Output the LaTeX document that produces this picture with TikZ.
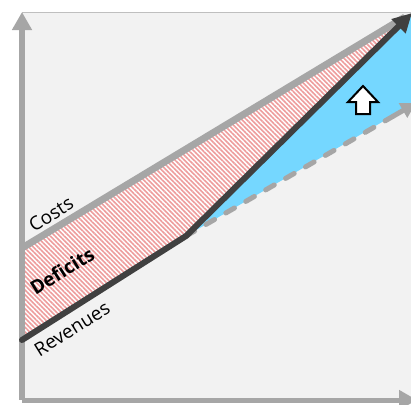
\documentclass[tikz,border=0pt]{standalone}
\usepackage{fontspec}
\setmainfont{Open Sans}
\usetikzlibrary{arrows.meta,patterns.meta,calc}

\definecolor{axisgray}{HTML}{A6A6A6}
\definecolor{framegray}{HTML}{BFBFBF}
\definecolor{plotbg}{HTML}{F2F2F2}
\definecolor{revdark}{HTML}{404040}
\definecolor{gainblue}{HTML}{75D7FF}
\definecolor{hatchpink}{HTML}{EE9C9C}

\begin{document}
\begin{tikzpicture}[
	% one unit is one pixel of the chart, y grows downwards
	x=1bp, y=-1bp
	]
	% Styles for the chart lines and labels.
	\tikzset{
		axis/.style={draw=axisgray, line width=5bp, -{Triangle[length=18bp,width=19bp]}},
		costline/.style={draw=axisgray, line width=7bp},
		revline/.style={draw=revdark, line width=6bp, line cap=round, line join=round, -{Triangle[length=19bp,width=19bp]}},
		trendline/.style={draw=axisgray, line width=5bp, line cap=round, dash pattern=on 10bp off 13bp},
		trendtip/.style={draw=axisgray, line width=5bp, -{Triangle[length=15bp,width=16bp]}},
		lbl/.style={font=\fontsize{19}{21}\selectfont, rotate=32, inner sep=0pt}
	}
	\useasboundingbox (0,0) rectangle (411,405);
	
	% === POINTS ===
	\coordinate (origin) at (22,400);
	\coordinate (ytop) at (22,12);
	\coordinate (xend) at (417,400);
	\coordinate (costA) at (22,248);
	\coordinate (costB) at (405,17);
	\coordinate (revA) at (22,340);
	\coordinate (bend) at (186,236);
	\coordinate (revB) at (412,13);
	\coordinate (trendB) at (416,103);
	\coordinate (uparrow) at (363,100);
	
	% === AREAS ===
	\begin{scope}
		\clip (0,0) rectangle (411,405);
		\fill[plotbg] (ytop) rectangle (420,400);
		\draw[framegray, line width=1bp] (ytop) -- (420,12);
		\fill[gainblue] (bend) -- (revB) -- (420,10) -- (420,100) -- cycle;
		\fill[white] (costA) -- (costB) -- (bend) -- (revA) -- cycle;
		\fill[pattern={Lines[angle=-45, distance=3.3bp, line width=1.6bp]}, pattern color=hatchpink]
			(costA) -- (costB) -- (bend) -- (revA) -- cycle;
		
		% === LINES ===
		\draw[costline] (costA) -- (costB);
		\draw[trendline] (bend) -- ($(bend)!0.9!(trendB)$);
		\draw[trendtip] ($(bend)!0.9!(trendB)$) -- (trendB);
		\draw[axis] (origin) -- (ytop);
		\draw[axis] (origin) -- (xend);
		\draw[revline] (revA) -- (bend) -- (revB);
	\end{scope}
	
	% white block arrow pointing up
	\draw[black, line width=2bp, fill=white, line join=miter, shift={(uparrow)}]
		(0,-14) -- (15,2) -- (7,2) -- (7,14) -- (-7,14) -- (-7,2) -- (-15,2) -- cycle;
	
	% === LABELS ===
	\node[lbl] (costslbl) at (51,214) {Costs};
	\node[lbl, font=\fontsize{19}{21}\selectfont\bfseries] (deficitslbl) at (62,271) {Deficits};
	\node[lbl] (revenueslbl) at (72,329) {Revenues};
\end{tikzpicture}
\end{document}
